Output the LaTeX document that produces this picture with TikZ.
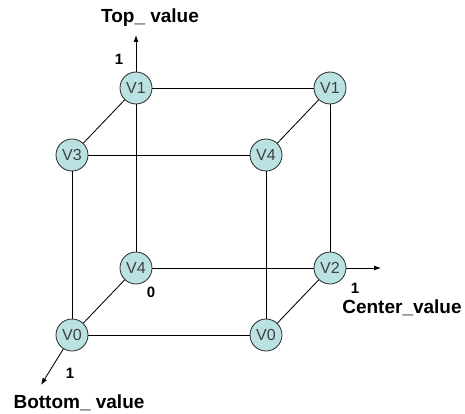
\documentclass[tikz,border=0pt]{standalone}
\usepackage{fontspec}
\setmainfont{Liberation Sans}
\usetikzlibrary{arrows.meta}
\definecolor{vfill}{RGB}{186,226,227}
\definecolor{vedge}{RGB}{40,40,40}
\begin{document}
\begin{tikzpicture}[x=1pt,y=-1pt,
  vertex/.style={circle,draw=vedge,line width=0.8pt,fill=vfill,minimum size=32pt,inner sep=0pt,
    font=\fontsize{16}{18}\selectfont,text=black!75},
  edge/.style={draw=black,line width=0.85pt},
  axis/.style={draw=black,line width=0.85pt,-{Latex[length=7pt,width=5pt]}},
  axlabel/.style={font=\fontsize{19}{21}\selectfont\bfseries,inner sep=0pt},
  tick/.style={font=\fontsize{15}{17}\selectfont\bfseries,inner sep=0pt}]
\useasboundingbox (0,0) rectangle (465,414);

% cube vertices
\node[vertex] (btl) at (136,88)  {V1};
\node[vertex] (btr) at (330,88)  {V1};
\node[vertex] (ftl) at (72,155)  {V3};
\node[vertex] (ftr) at (266,155) {V4};
\node[vertex] (bbl) at (136,268) {V4};
\node[vertex] (bbr) at (330,268) {V2};
\node[vertex] (fbl) at (72,335)  {V0};
\node[vertex] (fbr) at (266,335) {V0};

% axis end points
\coordinate (topend) at (136,35);
\coordinate (centerend) at (381,268);
\coordinate (bottomend) at (41,385);

% cube edges
\draw[edge] (btl) -- (btr);
\draw[edge] (btl) -- (ftl);
\draw[edge] (btr) -- (ftr);
\draw[edge] (ftl) -- (ftr);
\draw[edge] (btl) -- (bbl);
\draw[edge] (btr) -- (bbr);
\draw[edge] (ftl) -- (fbl);
\draw[edge] (ftr) -- (fbr);
\draw[edge] (bbl) -- (bbr);
\draw[edge] (bbl) -- (fbl);
\draw[edge] (bbr) -- (fbr);
\draw[edge] (fbl) -- (fbr);

% axes
\draw[axis] (btl) -- (topend);
\draw[axis] (bbr) -- (centerend);
\draw[axis] (fbl) -- (bottomend);

% axis labels and ticks
\node[axlabel] (toplab) at (150,18) {Top\_ value};
\node[axlabel] (centerlab) at (402,308) {Center\_value};
\node[axlabel] (bottomlab) at (79,403) {Bottom\_ value};
\node[tick] (t1) at (119,59) {1};
\node[tick] (c1) at (355,288) {1};
\node[tick] (b1) at (70,373) {1};
\node[tick] (z0) at (151,292) {0};
\end{tikzpicture}
\end{document}
